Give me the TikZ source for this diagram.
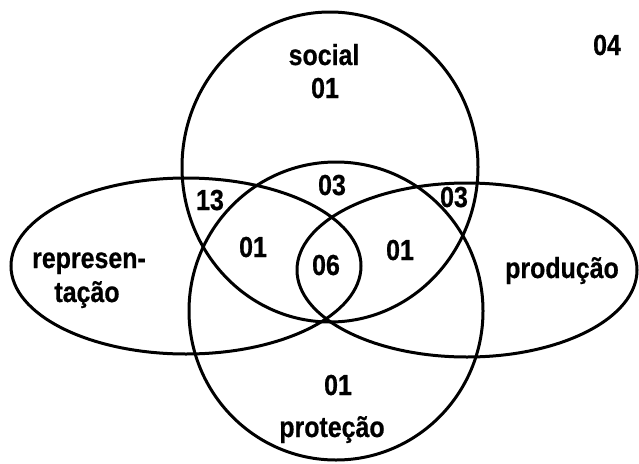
\documentclass[tikz,border=0pt]{standalone}
\usepackage{fontspec}
\setmainfont{Liberation Sans}[FakeStretch=0.86,FakeBold=0.6]
\begin{document}
\begin{tikzpicture}[x=1pt,y=-1pt,
  ring/.style={draw=black,line width=3pt},
  lbl/.style={anchor=base,inner sep=0pt,font=\bfseries\fontsize{29}{31}\selectfont}]
\fill[white] (0,0) rectangle (639,463);
\useasboundingbox (0,0) rectangle (639,463);
% sets
\draw[ring] (330,167) ellipse [x radius=148, y radius=155]; % social
\draw[ring] (336,311) ellipse [x radius=147, y radius=149]; % protecao
\draw[ring] (186,266) ellipse [x radius=175, y radius=88];  % representacao
\draw[ring] (467,270) ellipse [x radius=170, y radius=87];  % producao
% labels
\node[lbl] (soc)  at (324,65)  {social};
\node[lbl] (soc1) at (325,98)  {01};
\node[lbl] (out)  at (607,55)  {04};
\node[lbl] (n13)  at (210,210) {13};
\node[lbl] (n03a) at (332,195) {03};
\node[lbl] (n03b) at (454,207) {03};
\node[lbl] (n01a) at (253,257) {01};
\node[lbl] (n06)  at (326,275) {06};
\node[lbl] (n01b) at (400,260) {01};
\node[lbl] (rep1) at (89,268)  {represen-};
\node[lbl] (rep2) at (87,302)  {tação};
\node[lbl] (prod) at (562,278) {produção};
\node[lbl] (pro1) at (338,395) {01};
\node[lbl] (pro2) at (332,437) {proteção};
\end{tikzpicture}
\end{document}
